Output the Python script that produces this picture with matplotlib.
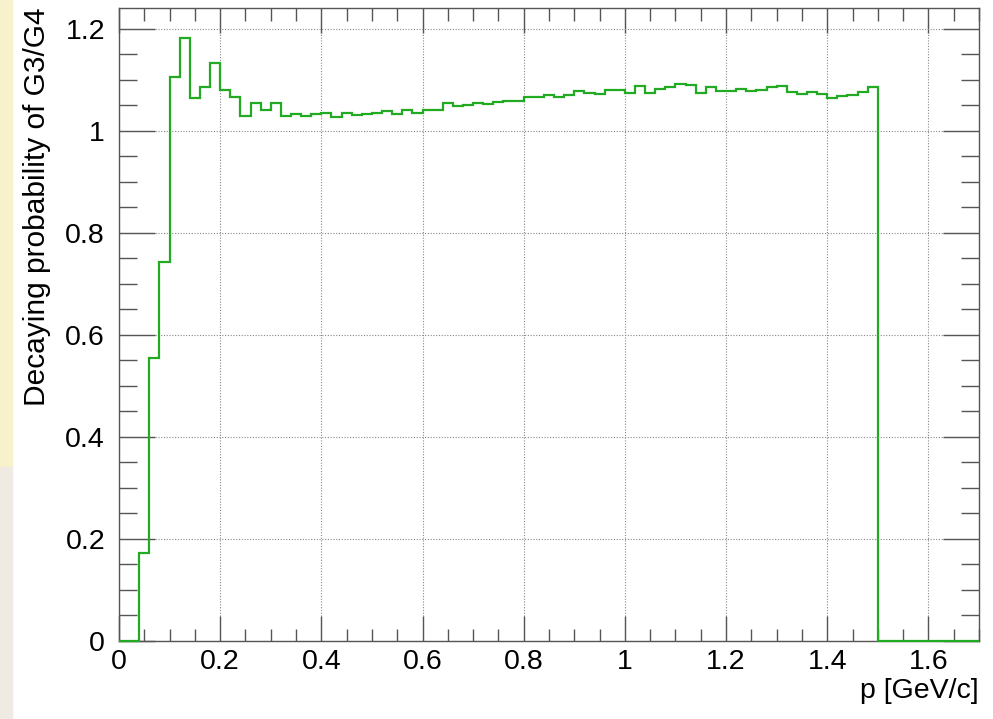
import matplotlib.pyplot as plt
import numpy as np
from matplotlib.patches import Rectangle
from matplotlib.ticker import MultipleLocator

# bin width 0.02 GeV/c, from 0 to 1.7
BIN_WIDTH = 0.02
N_BINS = 85

low_bins = [0.0, 0.0, 0.172, 0.554, 0.744, 1.106, 1.182, 1.064, 1.087, 1.134,
            1.080, 1.067, 1.030, 1.055, 1.041, 1.054, 1.030, 1.033]
mid_bins = [1.029, 1.033, 1.036, 1.028, 1.035, 1.031, 1.033, 1.035, 1.039, 1.033,
            1.041, 1.036, 1.042, 1.041, 1.054, 1.048, 1.050, 1.054, 1.052, 1.057,
            1.059, 1.059, 1.066, 1.066, 1.071, 1.066, 1.070, 1.078, 1.075, 1.073,
            1.080, 1.080, 1.075, 1.088]
high_bins = [1.074, 1.082, 1.087, 1.092, 1.090, 1.074, 1.087, 1.078, 1.079, 1.082,
             1.078, 1.080, 1.086, 1.089, 1.076, 1.073, 1.076, 1.073, 1.065, 1.069,
             1.071, 1.076, 1.086]
empty_bins = [0.0] * 10

ratio = np.array(low_bins + mid_bins + high_bins + empty_bins)
edges = np.arange(N_BINS + 1) * BIN_WIDTH

x_ticks = [0, 0.2, 0.4, 0.6, 0.8, 1.0, 1.2, 1.4, 1.6]
x_tick_labels = ["0", "0.2", "0.4", "0.6", "0.8", "1", "1.2", "1.4", "1.6"]
y_ticks = [0, 0.2, 0.4, 0.6, 0.8, 1.0, 1.2]
y_tick_labels = ["0", "0.2", "0.4", "0.6", "0.8", "1", "1.2"]

plt.rcParams["font.family"] = ["Liberation Sans", "DejaVu Sans"]

fig = plt.figure(figsize=(9.93, 7.19), dpi=100)
fig.patches.append(Rectangle((0, 0.35), 0.012, 0.65, transform=fig.transFigure,
                             color="#f7f2cc", zorder=0))
fig.patches.append(Rectangle((0, 0), 0.012, 0.35, transform=fig.transFigure,
                             color="#efeae2", zorder=0))

ax = fig.add_axes([119 / 993, 78 / 719, 860 / 993, 633 / 719])
ax.stairs(ratio, edges, color="#22aa22", linewidth=1.6, baseline=None,
          zorder=5, clip_on=False)

ax.set_xlim(0, 1.7)
ax.set_ylim(0, 1.241)

ax.set_xticks(x_ticks)
ax.set_xticklabels(x_tick_labels)
ax.set_yticks(y_ticks)
ax.set_yticklabels(y_tick_labels)
ax.xaxis.set_minor_locator(MultipleLocator(0.05))
ax.yaxis.set_minor_locator(MultipleLocator(0.05))

ax.tick_params(axis="both", which="both", direction="in", top=True, right=True,
               color="#555555", width=1.0, labelsize=20.5)
ax.tick_params(axis="x", which="major", length=18, pad=6)
ax.tick_params(axis="x", which="minor", length=9)
ax.tick_params(axis="y", which="major", length=26, pad=10)
ax.tick_params(axis="y", which="minor", length=13)

ax.grid(True, which="major", color="#888888", linestyle=(0, (1, 1.5)), linewidth=0.8)
for s in ax.spines.values():
    s.set_color("#555555")
    s.set_linewidth(1.0)

ax.set_ylabel("Decaying probability of G3/G4", fontsize=21.5, loc="top", labelpad=10)
ax.set_xlabel("p [GeV/c]", fontsize=20.5, loc="right", labelpad=2)

plt.savefig("out.png", dpi=100)
